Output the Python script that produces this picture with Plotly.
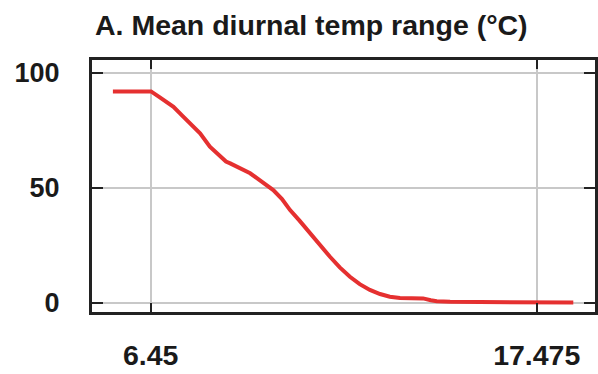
import plotly.graph_objects as go

title_text = "A. Mean diurnal temp range (°C)"
x_vals = [5.37, 6.46, 6.7, 7.1, 7.35, 7.57, 7.86, 8.14, 8.43, 8.6, 8.72, 9.0, 9.29, 9.6,
          9.95, 10.2, 10.43, 10.7, 11.0, 11.3, 11.57, 11.85, 12.14, 12.42, 12.71, 13.0,
          13.28, 13.57, 13.86, 14.23, 14.45, 14.62, 15.0, 16.0, 17.0, 18.52]
y_vals = [92, 92, 89.5, 85.3, 81.5, 78.1, 73.8, 68.0, 63.6, 61.5, 60.7, 58.8, 56.4, 53.0,
          49.1, 45.2, 40.4, 35.8, 30.3, 25.0, 20.1, 15.5, 11.4, 8.2, 5.7, 3.9,
          2.7, 2.2, 2.0, 2.0, 1.2, 0.8, 0.5, 0.3, 0.2, 0.2]
x_ticks = [6.45, 17.475]
x_tick_labels = ["6.45", "17.475"]
y_ticks = [0, 50, 100]
y_tick_labels = ["0", "50", "100"]

fig = go.Figure()
fig.add_trace(go.Scatter(x=x_vals, y=y_vals, mode="lines",
                         line=dict(color="#e53030", width=4), showlegend=False))

font_family = "Liberation Sans, Arial, sans-serif"
fig.update_layout(
    width=598, height=374,
    margin=dict(l=92, r=3, t=60, b=62),
    paper_bgcolor="white", plot_bgcolor="white",
    title=dict(text="<b>" + title_text + "</b>", x=95/598, xanchor="left",
               xref="container", y=1 - 25/374, yanchor="middle", yref="container",
               font=dict(family=font_family, size=28.5, color="#1a1a1a")),
)
fig.update_xaxes(
    range=[4.773, 19.14], tickvals=x_ticks, ticktext=x_tick_labels,
    showgrid=True, gridcolor="#c8c8c8", gridwidth=2, zeroline=False,
    showline=True, linecolor="#222", linewidth=3, mirror="ticks",
    ticks="inside", ticklen=9, tickwidth=2, tickcolor="#222",
    ticklabelstandoff=16, automargin=False,
    tickfont=dict(family=font_family, size=28.5, color="#1a1a1a", weight="bold"),
)
fig.update_yaxes(
    range=[-3.91, 105.65], tickvals=y_ticks, ticktext=y_tick_labels,
    showgrid=True, gridcolor="#c8c8c8", gridwidth=2, zeroline=False,
    showline=True, linecolor="#222", linewidth=3, mirror="ticks",
    ticks="inside", ticklen=11, tickwidth=2, tickcolor="#222",
    ticklabelstandoff=24, automargin=False,
    tickfont=dict(family=font_family, size=27, color="#1a1a1a", weight="bold"),
)
fig.write_html("out.html")
